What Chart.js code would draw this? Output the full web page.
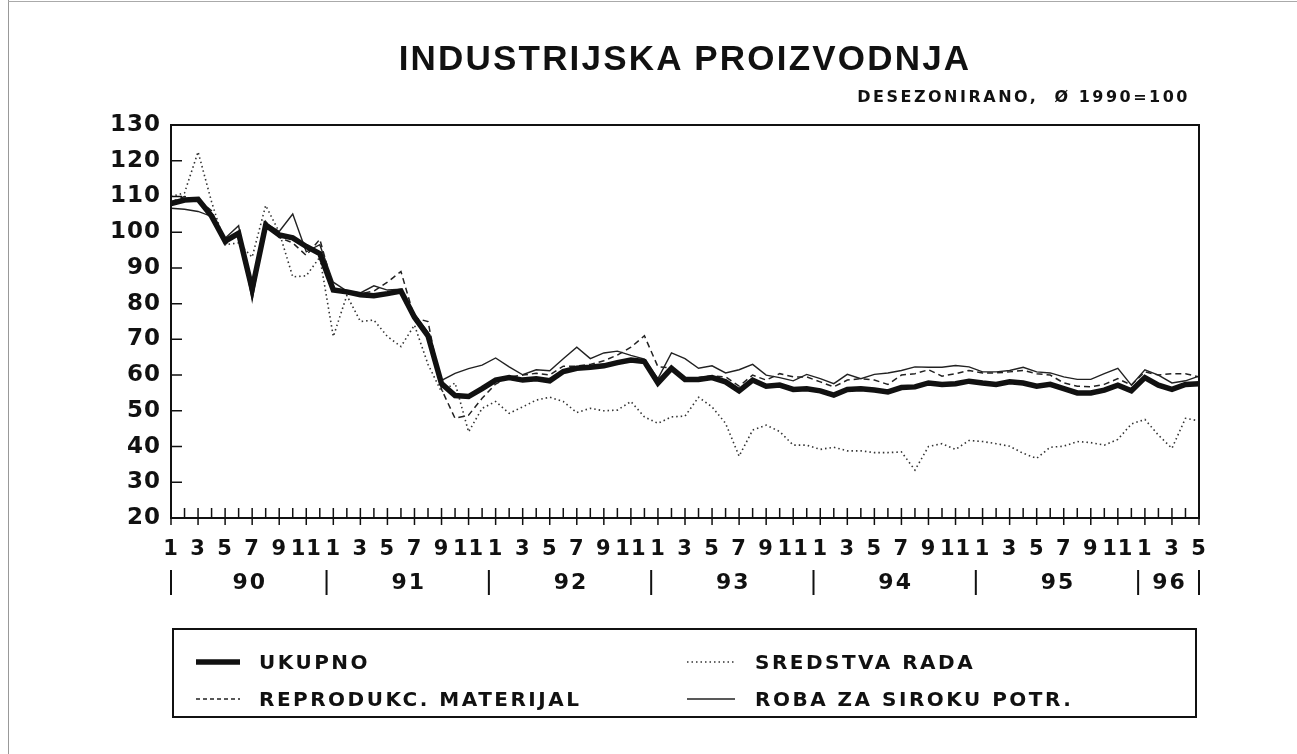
<!DOCTYPE html>
<html>
<head>
<meta charset="utf-8">
<title>Industrijska proizvodnja</title>
<script src="https://cdn.jsdelivr.net/npm/chart.js@4.4.1/dist/chart.umd.min.js"></script>
<style>
  body { margin: 0; background: #fff; font-family: 'Liberation Sans', Arial, sans-serif; color: #111; }
  #page { position: relative; width: 1297px; height: 754px; overflow: hidden; background: #fff; }
  #chartBox { position: absolute; left: 0; top: 0; width: 1297px; height: 754px; }
  .edge-left { position: absolute; left: 8px; top: 0; width: 1px; height: 754px; background: #999; }
  .edge-top { position: absolute; left: 8px; top: 1px; width: 1289px; height: 1px; background: #aaa; }
  h1 { position: absolute; left: 0; top: 40px; width: 1370px; margin: 0; text-align: center;
       font-size: 35px; line-height: 1; letter-spacing: 2.2px; font-weight: bold; }
  .sub { position: absolute; right: 107px; top: 89px; font-family: 'DejaVu Sans', sans-serif;
         font-size: 16px; line-height: 1; letter-spacing: 2.5px; font-weight: bold; }
  #legendBox { position: absolute; left: 172px; top: 628px; width: 1021px; height: 86px; border: 2px solid #111; }
  .lg-text { position: absolute; font-family: 'DejaVu Sans', sans-serif; font-size: 20px; line-height: 1;
             font-weight: bold; letter-spacing: 2.5px; white-space: nowrap; }
  .lg-line { position: absolute; }
</style>
</head>
<body>
<div id="page">
  <div class="edge-left"></div>
  <div class="edge-top"></div>
  <div id="chartBox"><canvas id="prodChart"></canvas></div>
  <h1>INDUSTRIJSKA PROIZVODNJA</h1>
  <div class="sub">DESEZONIRANO,&nbsp; Ø 1990=100</div>
  <div id="legendBox"></div>
</div>
<script>
// years on the axis, last month shown for 1996
const years = ['90', '91', '92', '93', '94', '95', '96'];
const lastMonth = 5;

const seriesNames = ['UKUPNO', 'SREDSTVA RADA', 'REPRODUKC. MATERIJAL', 'ROBA ZA SIROKU POTR.'];

// monthly values, 1/1990 .. 5/1996
const ukupno = [
    108, 109, 109.2, 104.5, 97.5, 99.7, 84, 102, 99.2, 98.4, 96, 94,
    83.8, 83.3, 82.5, 82.2, 82.8, 83.5, 76.2, 71, 57.6, 54.3, 54, 56.2,
    58.6, 59.3, 58.6, 59, 58.4, 61, 61.9, 62.2, 62.6, 63.5, 64.2, 63.8,
    57.8, 61.9, 58.8, 58.8, 59.3, 58.1, 55.6, 58.6, 56.9, 57.2, 56, 56.2,
    55.6, 54.4, 56, 56.2, 55.8, 55.3, 56.5, 56.7, 57.8, 57.4, 57.6, 58.3,
    57.8, 57.4, 58.1, 57.8, 56.9, 57.4, 56.2, 55, 55, 55.8, 57.2, 55.6,
    59.3, 57.2, 56, 57.4, 57.6
];
const sredstvaRada = [
    110, 111, 122.5, 108.5, 96.5, 97, 93, 107.5, 100, 87.5, 87.8, 93,
    70.8, 82.3, 75, 75.4, 70.8, 68, 74, 63, 55.3, 57.8, 44.1, 50.7,
    52.6, 49.3, 51.1, 53, 53.8, 52.6, 49.5, 50.7, 50, 50.2, 52.6, 48.3,
    46.5, 48.3, 48.5, 53.8, 51.1, 46.5, 37.3, 44.6, 46, 44.2, 40.4, 40.4,
    39.2, 39.8, 38.8, 38.8, 38.3, 38.3, 38.5, 33.4, 40, 40.8, 39.2, 41.7,
    41.4, 40.8, 40.1, 38.1, 36.7, 39.8, 40.1, 41.4, 41.1, 40.4, 42, 46.3,
    47.6, 43.2, 39.5, 47.9, 47.2
];
const reprodMaterijal = [
    108.5, 110, 109, 106, 96.5, 100, 82, 103, 98.5, 97, 93.5, 98,
    84.5, 83, 82.8, 83.5, 86, 89, 76, 75, 56, 47.9, 48.8, 53.5,
    57.5, 59.5, 60, 60.5, 60, 62.5, 62.5, 63, 64, 65.6, 67.8, 71,
    62.3, 62, 59, 59.3, 59.8, 59.5, 56.9, 60, 58.6, 60.4, 59.5, 59.5,
    58.1, 56.7, 58.6, 59, 58.6, 57.4, 60, 60.4, 61.5, 59.7, 60.4, 61.3,
    60.6, 60.6, 60.9, 61.3, 60.4, 60, 57.8, 56.9, 56.7, 57.4, 59, 57.2,
    60.9, 60, 60.4, 60.4, 59.5
];
const robaPotr = [
    106.7, 106.4, 105.8, 104.4, 98.3, 101.8, 81, 102.5, 100.2, 105.1, 94.5, 96.5,
    86, 83.5, 83, 85, 83.8, 84, 77, 72, 58.5, 60.5, 61.8, 62.8,
    64.8, 62.3, 60.1, 61.5, 61.2, 64.6, 67.8, 64.6, 66.2, 66.7, 65.5, 64.5,
    59, 66.2, 64.6, 61.9, 62.6, 60.6, 61.5, 63, 60, 59.3, 58.4, 60.2,
    59, 57.6, 60.2, 59, 60.2, 60.6, 61.3, 62.3, 62.2, 62.2, 62.7, 62.3,
    60.9, 60.9, 61.3, 62.2, 60.9, 60.6, 59.5, 58.8, 58.8, 60.4, 61.9, 57.2,
    61.5, 60, 57.8, 58.4, 59.7
];

// month numbers for the category axis
const months = [];
years.forEach((yr, k) => {
    const n = k === years.length - 1 ? lastMonth : 12;
    for (let m = 1; m <= n; m++) months.push(m);
});

const lineStyles = [
    { color: '#111', width: 5.5, dash: [] },
    { color: '#333', width: 1.6, dash: [1.5, 3] },
    { color: '#222', width: 1.5, dash: [6, 4] },
    { color: '#222', width: 1.4, dash: [] }
];

const tickFont = '"DejaVu Sans", sans-serif';

// axis frame, inner ticks, year row
const axisExtras = {
    id: 'axisExtras',
    beforeDraw(chart) {
        chart.ctx.letterSpacing = '1px';
    },
    afterDraw(chart) {
        const { ctx, chartArea: a, scales: { x, y } } = chart;
        ctx.save();
        ctx.strokeStyle = '#111';
        ctx.lineWidth = 2;
        ctx.strokeRect(a.left, a.top, a.right - a.left, a.bottom - a.top);

        ctx.lineWidth = 1.5;
        ctx.beginPath();
        months.forEach((m, i) => {
            const px = x.getPixelForValue(i);
            ctx.moveTo(px, a.bottom - 10);
            ctx.lineTo(px, a.bottom + (m % 2 ? 7 : 0));
        });
        for (let v = y.min + 10; v < y.max; v += 10) {
            const py = y.getPixelForValue(v);
            ctx.moveTo(a.left, py);
            ctx.lineTo(a.left + 11, py);
        }
        ctx.stroke();

        // year separators and year labels
        ctx.lineWidth = 2;
        ctx.fillStyle = '#111';
        ctx.font = 'bold 22px ' + tickFont;
        ctx.letterSpacing = '2px';
        ctx.textAlign = 'center';
        ctx.textBaseline = 'middle';
        let start = 0;
        ctx.beginPath();
        years.forEach((yr, k) => {
            const n = k === years.length - 1 ? lastMonth : 12;
            const end = start + n - 1;
            const left = k === 0 ? start : start - 0.5;
            const right = k === years.length - 1 ? end : end + 0.5;
            const sx = x.getPixelForValue(left);
            ctx.moveTo(sx, 570);
            ctx.lineTo(sx, 595);
            if (k === years.length - 1) {
                const ex = x.getPixelForValue(right);
                ctx.moveTo(ex, 570);
                ctx.lineTo(ex, 595);
            }
            const cx = x.getPixelForValue((left + right) / 2);
            ctx.fillText(yr, cx + 1, 583);
            start = end + 1;
        });
        ctx.stroke();
        ctx.restore();
    }
};

const ctx = document.getElementById('prodChart').getContext('2d');
new Chart(ctx, {
    type: 'line',
    data: {
        labels: months,
        datasets: [ukupno, sredstvaRada, reprodMaterijal, robaPotr].map((d, i) => ({
            label: seriesNames[i],
            data: d,
            borderColor: lineStyles[i].color,
            borderWidth: lineStyles[i].width,
            borderDash: lineStyles[i].dash,
            pointRadius: 0,
            tension: 0,
            fill: false
        }))
    },
    options: {
        responsive: true,
        maintainAspectRatio: false,
        animation: false,
        layout: { padding: { left: 109, right: 98, top: 125, bottom: 176 } },
        plugins: {
            legend: { display: false },
            tooltip: { enabled: false }
        },
        scales: {
            x: {
                type: 'category',
                grid: { display: false, drawTicks: false },
                border: { display: true, color: '#111', width: 2 },
                ticks: {
                    autoSkip: false,
                    maxRotation: 0,
                    padding: 19,
                    color: '#111',
                    font: { family: tickFont, size: 21, weight: 'bold' },
                    callback: (v, i) => (months[i] % 2 ? String(months[i]) : '')
                },
                afterFit: s => { s.height = 60; }
            },
            y: {
                min: 20,
                max: 130,
                grid: { display: false, drawTicks: false },
                border: { display: true, color: '#111', width: 2 },
                ticks: {
                    stepSize: 10,
                    padding: 10,
                    color: '#111',
                    font: { family: tickFont, size: 23, weight: 'bold' }
                },
                afterFit: s => { s.width = 62; }
            }
        }
    },
    plugins: [axisExtras]
});

// legend in two columns under the chart
const legendSpots = [
    { lx: 196, lw: 44, tx: 259, cy: 662 },
    { lx: 687, lw: 48, tx: 755, cy: 662 },
    { lx: 196, lw: 44, tx: 259, cy: 699 },
    { lx: 687, lw: 48, tx: 755, cy: 699 }
];
const page = document.getElementById('page');
seriesNames.forEach((name, i) => {
    const s = legendSpots[i];
    const st = lineStyles[i];
    const dash = i === 2 ? '4 3' : st.dash.join(' ');
    const svg = document.createElementNS('http://www.w3.org/2000/svg', 'svg');
    svg.setAttribute('class', 'lg-line');
    svg.setAttribute('width', s.lw);
    svg.setAttribute('height', 10);
    svg.style.left = s.lx + 'px';
    svg.style.top = (s.cy - 5) + 'px';
    svg.innerHTML = `<line x1="0" y1="5" x2="${s.lw}" y2="5" stroke="${st.color}" stroke-width="${st.width}" stroke-dasharray="${dash}"/>`;
    page.appendChild(svg);

    const t = document.createElement('div');
    t.className = 'lg-text';
    t.textContent = name;
    t.style.left = s.tx + 'px';
    t.style.top = (s.cy - 10) + 'px';
    page.appendChild(t);
});
</script>
</body>
</html>
